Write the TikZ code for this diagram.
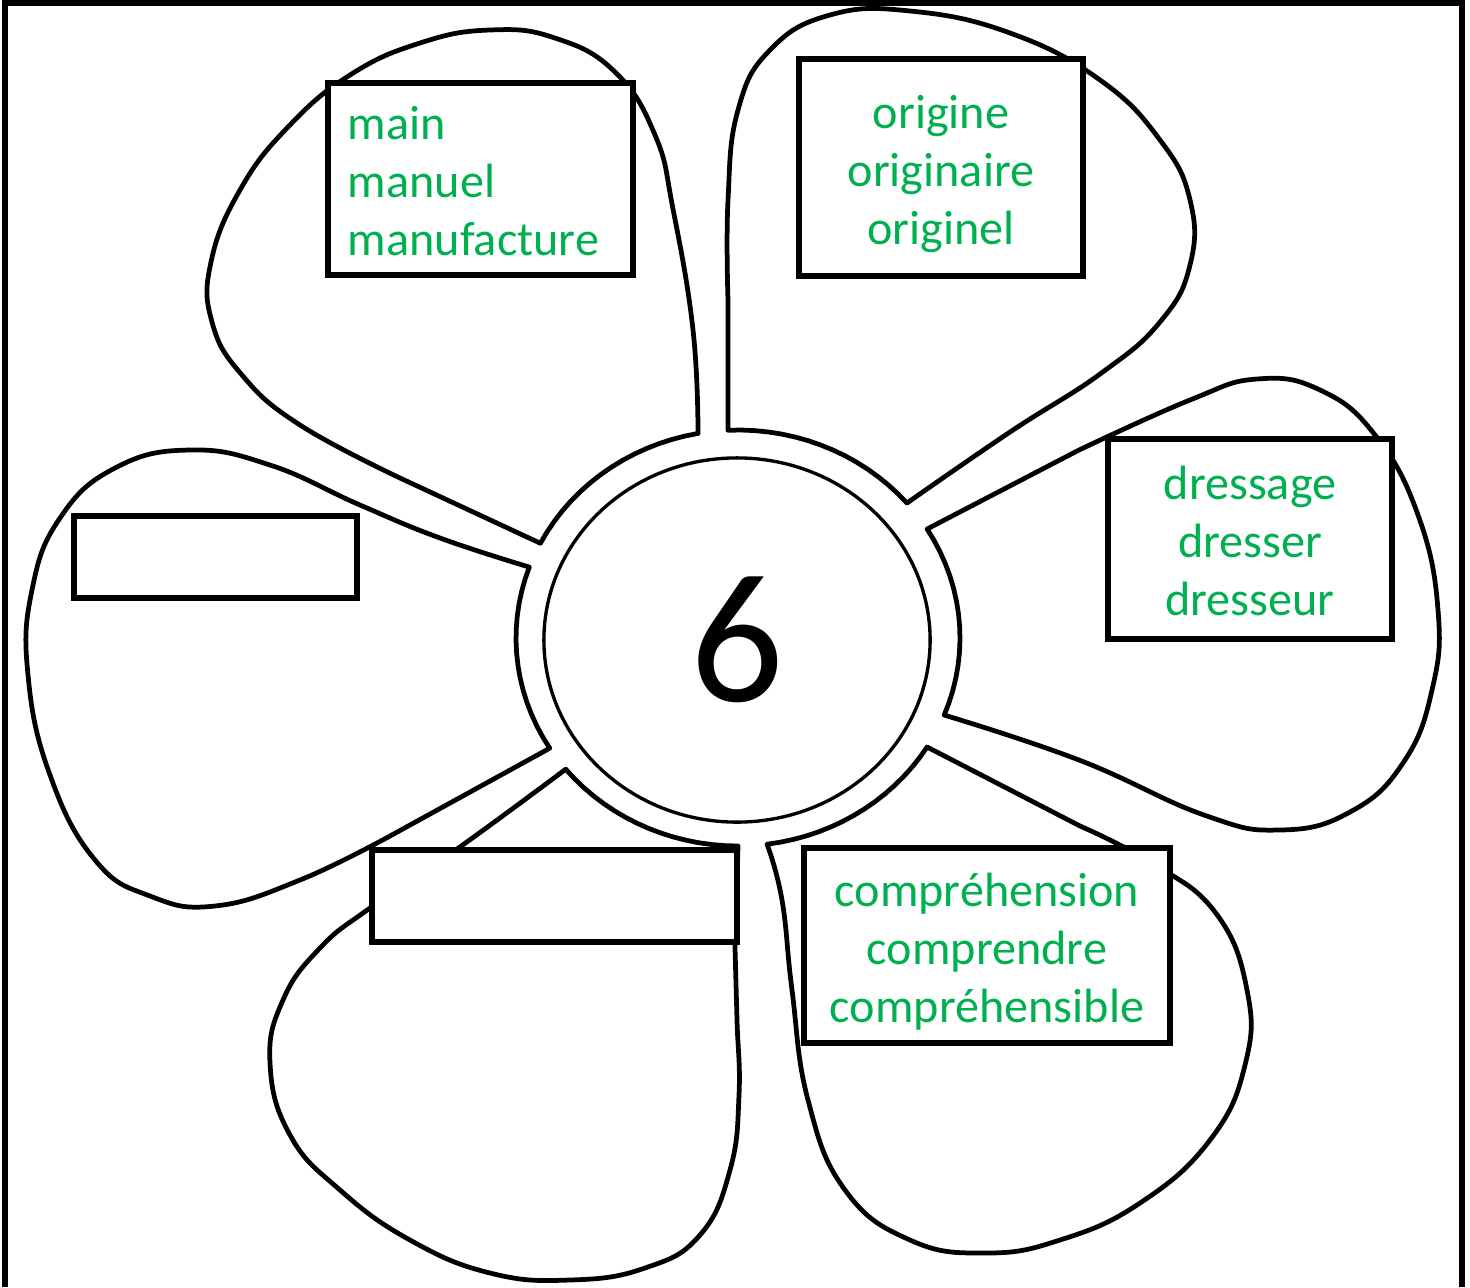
\documentclass[tikz,border=0pt]{standalone}
\usepackage{fontspec}
\setmainfont{Carlito}
\usetikzlibrary{shapes.geometric}
\definecolor{wordgreen}{HTML}{00B050}

\begin{document}
\begin{tikzpicture}[x=0.01cm, y=-0.01cm,
    petal/.style={line width=1.35pt, line join=round},
    wordbox/.style={draw, fill=white, line width=1.5pt, inner sep=0pt},
    words/.style={text=wordgreen, inner sep=0pt, font=\fontsize{13.7}{16.5}\selectfont},
    hub/.style={draw, ellipse, line width=0.95pt, inner sep=0pt,
      minimum width=3.86cm, minimum height=3.64cm, font=\fontsize{52.5}{60}\selectfont}]
  \useasboundingbox (0,0) rectangle (1470,1287);
  % frame, open at the bottom
  \draw[line width=1.7pt] (5,1287) -- (5,3) -- (1462,3) -- (1462,1287);

  % petals, each closed by its piece of the ring
  \draw[petal] plot[domain=207.1:259.7, samples=16] ({738+222*cos(\x)},{638+208*sin(\x)})
    -- plot[smooth, tension=0.75] coordinates {(698,433) (693,330) (673,209) (655,135)
      (615,72) (555,38) (490,30) (420,43) (350,75) (288,127) (240,190) (211,262)
      (212,322) (242,375) (300,425) (400,478)} -- cycle;
  \draw[petal] plot[domain=267.4:319.6, samples=16] ({738+222*cos(\x)},{638+208*sin(\x)})
    -- plot[smooth, tension=0.75] coordinates {(907,503) (1010,432) (1100,374)
      (1160,322) (1190,265) (1190,200) (1160,140) (1100,80) (1010,33) (910,11)
      (830,15) (770,50) (738,110) (728,200) (728,300)} -- cycle;
  \draw[petal] plot[domain=328.4:381.8, samples=16] ({738+222*cos(\x)},{638+208*sin(\x)})
    -- plot[smooth, tension=0.75] coordinates {(944,715) (1079,760) (1204,815)
      (1280,830) (1350,812) (1403,763) (1432,690) (1438,610) (1418,515) (1375,435)
      (1320,390) (1257,379) (1190,400) (1079,450)} -- cycle;
  \draw[petal] plot[domain=31.6:82.5, samples=16] ({738+222*cos(\x)},{638+208*sin(\x)})
    -- plot[smooth, tension=0.75] coordinates {(767,844) (782,900) (792,990)
      (808,1100) (845,1190) (910,1240) (985,1253) (1060,1240) (1140,1203)
      (1210,1140) (1245,1065) (1247,990) (1215,912) (1150,862) (1080,826)} -- cycle;
  \draw[petal] plot[domain=90:140.8, samples=16] ({738+222*cos(\x)},{638+208*sin(\x)})
    -- plot[smooth, tension=0.75] coordinates {(566,769) (457,849) (370,908)
      (320,948) (283,1000) (270,1063) (290,1135) (340,1190) (410,1240) (490,1273)
      (570,1280) (645,1268) (700,1235) (730,1170) (739,1095) (737,1020)
      (735,948)} -- cycle;
  \draw[petal] plot[domain=148:200, samples=16] ({738+222*cos(\x)},{638+208*sin(\x)})
    -- plot[smooth, tension=0.75] coordinates {(529,567) (440,538) (360,505)
      (270,465) (190,450) (115,468) (60,518) (32,590) (28,675) (50,775)
      (95,860) (150,896) (215,906) (300,880) (390,836)} -- cycle;

  % word boxes
  \node[wordbox, minimum width=3.05cm, minimum height=1.92cm] (mainbox) at (480.5,179) {};
  \node[wordbox, minimum width=2.84cm, minimum height=2.17cm] (originebox) at (941,167.5) {};
  \node[wordbox, minimum width=2.84cm, minimum height=2.00cm] (dressbox) at (1250,539) {};
  \node[wordbox, minimum width=3.66cm, minimum height=1.95cm] (comprbox) at (987,945.5) {};
  \node[wordbox, minimum width=3.65cm, minimum height=0.92cm] (bottombox) at (554.5,896) {};
  \node[wordbox, minimum width=2.83cm, minimum height=0.82cm] (leftbox) at (215.5,557) {};

  \node[words, align=left, anchor=west] (mainwords) at ([xshift=0.22cm, yshift=-2pt]mainbox.west)
    {\strut main\\manuel\\manufacture\strut};
  \node[words, align=center] (originewords) at ([yshift=-2pt]originebox.center)
    {\strut origine\\originaire\\originel\strut};
  \node[words, align=center] (dresswords) at ([yshift=-2pt]dressbox.center)
    {\strut dressage\\dresser\\dresseur\strut};
  \node[words, align=center] (comprwords) at ([yshift=-2pt]comprbox.center)
    {\strut compréhension\\comprendre\\compréhensible\strut};

  % heart of the flower
  \node[hub] (hub) at (737,640) {6};
\end{tikzpicture}
\end{document}
